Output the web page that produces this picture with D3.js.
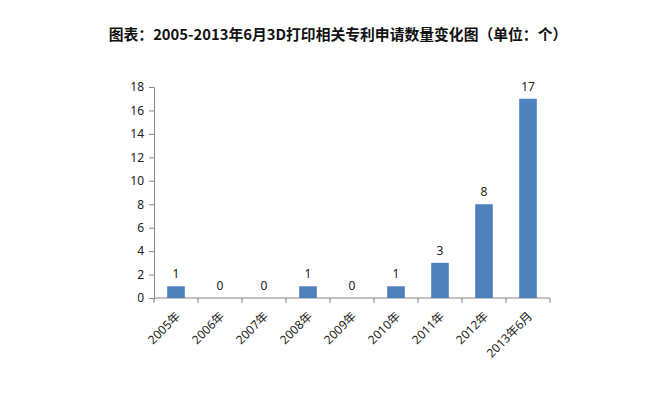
<!DOCTYPE html>
<html>
<head>
<meta charset="utf-8">
<script src="https://cdn.jsdelivr.net/npm/d3@7"></script>
<style>
  body { margin: 0; background: #fff; }
  text { font-family: "Noto Sans", "Noto Sans CJK SC", sans-serif; }
</style>
</head>
<body>
<svg id="chart" width="662" height="393"></svg>
<script>
var years = ["2005年", "2006年", "2007年", "2008年", "2009年", "2010年", "2011年", "2012年", "2013年6月"];
var counts = [1, 0, 0, 1, 0, 1, 3, 8, 17];
var yTicks = [0, 2, 4, 6, 8, 10, 12, 14, 16, 18];

var svg = d3.select("#chart");

var x = d3.scaleBand()
        .domain(years)
        .range([154, 550])
        .paddingInner(0.6)
        .paddingOuter(0.3);

var y = d3.scaleLinear()
        .domain([0, 18])
        .range([298, 87]);

svg.append("text")
    .attr("x", 338)
    .attr("y", 40)
    .attr("text-anchor", "middle")
    .attr("font-size", 14.8)
    .attr("font-weight", "bold")
    .style("font-family", "'Noto Sans CJK SC', sans-serif")
    .attr("fill", "#111")
    .text("图表：2005-2013年6月3D打印相关专利申请数量变化图（单位：个）");

// y axis
var yAxis = svg.append("g")
    .attr("transform", "translate(154,0)")
    .call(d3.axisLeft(y).tickValues(yTicks).tickSize(5).tickPadding(5));
yAxis.selectAll("text").attr("font-size", 12).attr("fill", "#222").style("font-family", "'Noto Sans', sans-serif");
yAxis.selectAll("line, path").attr("stroke", "#868686");

// x axis, ticks between categories
var bounds = d3.range(years.length + 1).map(function(i) { return 154 + i * x.step(); });
var xAxis = svg.append("g").attr("transform", "translate(0,298)");
xAxis.append("line")
    .attr("x1", 154).attr("x2", 550)
    .attr("stroke", "#868686");
xAxis.selectAll(".tk")
    .data(bounds)
    .enter().append("line")
    .attr("x1", function(d) { return d; })
    .attr("x2", function(d) { return d; })
    .attr("y1", 0).attr("y2", 5)
    .attr("stroke", "#868686");
xAxis.selectAll(".lbl")
    .data(years)
    .enter().append("text")
    .attr("text-anchor", "end")
    .attr("font-size", 12)
    .attr("fill", "#222")
    .attr("transform", function(d) {
        return "translate(" + (x(d) + x.bandwidth() / 2 + 5) + ",19) rotate(-45)";
    })
    .text(function(d) { return d; });

// bars
svg.selectAll(".bar")
    .data(counts)
    .enter().append("rect")
    .attr("x", function(d, i) { return x(years[i]); })
    .attr("width", x.bandwidth())
    .attr("y", function(d) { return y(d); })
    .attr("height", function(d) { return y(0) - y(d); })
    .attr("fill", "#4F81BD");

svg.selectAll(".val")
    .data(counts)
    .enter().append("text")
    .attr("x", function(d, i) { return x(years[i]) + x.bandwidth() / 2; })
    .attr("y", function(d) { return y(d) - 8; })
    .attr("text-anchor", "middle")
    .attr("font-size", 12)
    .attr("fill", "#222")
    .text(function(d) { return d; });
</script>
</body>
</html>
